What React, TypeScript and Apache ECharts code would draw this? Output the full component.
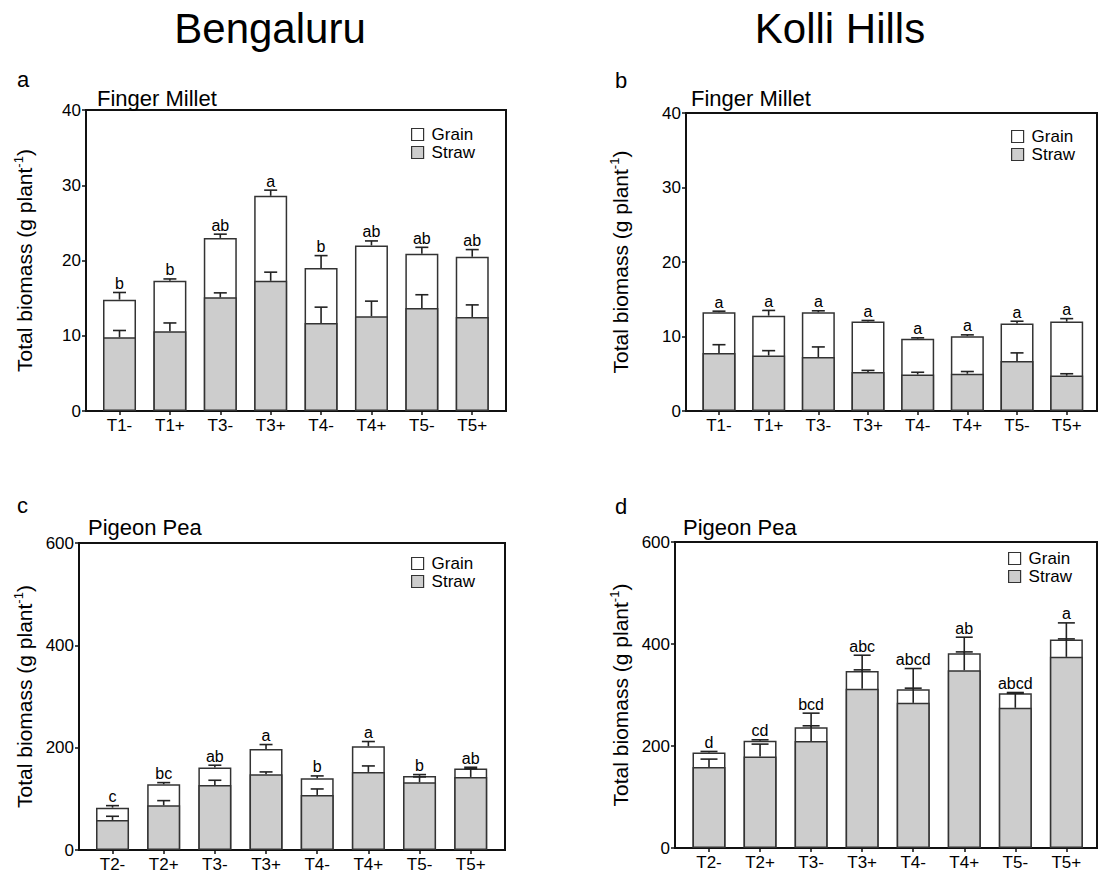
import React, { useEffect, useRef } from "react";
import * as echarts from "echarts";

const FONT = '"Liberation Sans", Arial, sans-serif';

// ---- categories ----
const FM_CATS = ["T1-", "T1+", "T3-", "T3+", "T4-", "T4+", "T5-", "T5+"];
const PP_CATS = ["T2-", "T2+", "T3-", "T3+", "T4-", "T4+", "T5-", "T5+"];

// ---- (a) Bengaluru, Finger Millet ----
const A_STRAW = [9.8, 10.6, 15.1, 17.3, 11.7, 12.6, 13.7, 12.5];
const A_STRAW_SE = [0.9, 1.1, 0.6, 1.15, 2.1, 2.0, 1.75, 1.6];
const A_TOTAL = [14.8, 17.3, 23.0, 28.6, 19.0, 22.0, 20.9, 20.5];
const A_TOTAL_SE = [0.95, 0.25, 0.5, 0.75, 1.65, 0.6, 0.85, 0.95];
const A_LETTERS = ["b", "b", "ab", "a", "b", "ab", "ab", "ab"];

// ---- (b) Kolli Hills, Finger Millet ----
const B_STRAW = [7.8, 7.45, 7.25, 5.25, 4.9, 5.0, 6.7, 4.75];
const B_STRAW_SE = [1.1, 0.65, 1.35, 0.2, 0.3, 0.3, 1.1, 0.25];
const B_TOTAL = [13.25, 12.8, 13.25, 12.0, 9.7, 10.05, 11.75, 12.0];
const B_TOTAL_SE = [0.15, 0.7, 0.2, 0.15, 0.12, 0.17, 0.3, 0.4];
const B_LETTERS = ["a", "a", "a", "a", "a", "a", "a", "a"];

// ---- (c) Bengaluru, Pigeon Pea ----
const C_STRAW = [58.7, 87.4, 127.2, 148.0, 107.6, 152.6, 132.4, 142.8];
const C_STRAW_SE = [7.2, 9.1, 9.1, 4.6, 11.7, 11.7, 10.5, 16.0];
const C_TOTAL = [82.8, 128.5, 161.1, 197.6, 140.2, 202.8, 144.8, 159.1];
const C_TOTAL_SE = [3.9, 3.2, 4.6, 8.5, 4.6, 9.2, 2.6, 2.6];
const C_LETTERS = ["c", "bc", "ab", "a", "b", "a", "b", "ab"];

// ---- (d) Kolli Hills, Pigeon Pea ----
const D_STRAW = [158.6, 179.5, 209.6, 312.1, 284.6, 348.6, 274.9, 374.8];
const D_STRAW_SE = [15.7, 24.2, 54.8, 65.9, 67.3, 64.7, 28.5, 66.6];
const D_TOTAL = [187.4, 210.2, 237.0, 347.3, 311.4, 381.9, 303.6, 408.7];
const D_TOTAL_SE = [1.9, 2.0, 2.6, 2.0, 2.0, 2.6, 1.3, 1.3];
const D_LETTERS = ["d", "cd", "bcd", "abc", "abcd", "ab", "abcd", "a"];

const Y_NAME = "{m|Total biomass (g plant}{s|-1}{m|)}";

const PANELS = [
  { cats: FM_CATS, straw: A_STRAW, strawSE: A_STRAW_SE, total: A_TOTAL, totalSE: A_TOTAL_SE, letters: A_LETTERS,
    grid: { left: 86, top: 110, width: 420, height: 301 }, xMin: -0.665, xMax: 7.67, yMax: 40, yInt: 10, nameGap: 50, capW: 13,
    legend: { left: 411, top: 126 } },
  { cats: FM_CATS, straw: B_STRAW, strawSE: B_STRAW_SE, total: B_TOTAL, totalSE: B_TOTAL_SE, letters: B_LETTERS,
    grid: { left: 686, top: 113, width: 411, height: 298 }, xMin: -0.664, xMax: 7.61, yMax: 40, yInt: 10, nameGap: 54, capW: 13,
    legend: { left: 1011, top: 128 } },
  { cats: PP_CATS, straw: C_STRAW, strawSE: C_STRAW_SE, total: C_TOTAL, totalSE: C_TOTAL_SE, letters: C_LETTERS,
    grid: { left: 79, top: 543, width: 426, height: 307 }, xMin: -0.655, xMax: 7.67, yMax: 600, yInt: 200, nameGap: 43, capW: 13,
    legend: { left: 411, top: 555 } },
  { cats: PP_CATS, straw: D_STRAW, strawSE: D_STRAW_SE, total: D_TOTAL, totalSE: D_TOTAL_SE, letters: D_LETTERS,
    grid: { left: 675, top: 542, width: 422, height: 306 }, xMin: -0.666, xMax: 7.6, yMax: 600, yInt: 200, nameGap: 43, capW: 17,
    legend: { left: 1008, top: 550 } },
];

function buildOption() {
  const grids: any[] = [];
  const xAxes: any[] = [];
  const yAxes: any[] = [];
  const series: any[] = [];
  const legends: any[] = [];
  const idx = [0, 1, 2, 3, 4, 5, 6, 7];

  PANELS.forEach((p, gi) => {
    grids.push({
      ...p.grid,
      show: true,
      borderColor: "#111",
      borderWidth: 2,
      backgroundColor: "transparent",
      containLabel: false,
      outerBoundsMode: "none",
    });
    xAxes.push({
      type: "value",
      gridIndex: gi,
      min: p.xMin,
      max: p.xMax,
      splitLine: { show: false },
      axisLine: { onZero: false, lineStyle: { color: "#111", width: 2 } },
      axisTick: { customValues: idx, length: 4, lineStyle: { color: "#111", width: 1.5 } },
      axisLabel: {
        customValues: idx,
        formatter: (v: number) => p.cats[Math.round(v)],
        color: "#000",
        fontSize: 17,
        fontFamily: FONT,
        margin: 6,
      },
    });
    yAxes.push({
      type: "value",
      gridIndex: gi,
      min: 0,
      max: p.yMax,
      interval: p.yInt,
      splitLine: { show: false },
      axisLine: { show: true, onZero: false, lineStyle: { color: "#111", width: 2 } },
      axisTick: { show: true, length: 4, lineStyle: { color: "#111", width: 1.5 } },
      axisLabel: { color: "#000", fontSize: 17, fontFamily: FONT, margin: 5 },
      name: Y_NAME,
      nameLocation: "middle",
      nameGap: p.nameGap,
      nameTextStyle: {
        rich: {
          m: { fontSize: 21, fontFamily: FONT, color: "#000", lineHeight: 24 },
          s: { fontSize: 13, fontFamily: FONT, color: "#000", lineHeight: 13, verticalAlign: "top" },
        },
      },
    });

    series.push({
      type: "bar",
      name: "Grain",
      xAxisIndex: gi,
      yAxisIndex: gi,
      barWidth: 33,
      barGap: "-100%",
      z: 2,
      itemStyle: { color: "#ffffff", borderColor: "#333", borderWidth: 1.5 },
      data: p.total.map((v, i) => [i, v]),
    });
    series.push({
      type: "bar",
      name: "Straw",
      xAxisIndex: gi,
      yAxisIndex: gi,
      barWidth: 33,
      barGap: "-100%",
      z: 3,
      itemStyle: { color: "#cdcdcd", borderColor: "#333", borderWidth: 1.5 },
      data: p.straw.map((v, i) => [i, v]),
    });
    series.push({
      type: "custom",
      xAxisIndex: gi,
      yAxisIndex: gi,
      z: 5,
      encode: { x: 0, y: 1 },
      data: p.total.map((v, i) => [i, v + p.totalSE[i]]),
      renderItem: (params: any, api: any) => {
        const k = params.dataIndex;
        const x = api.value(0);
        const s = p.straw[k];
        const t = p.total[k];
        const [cx, ys0] = api.coord([x, s]);
        const ys1 = api.coord([x, s + p.strawSE[k]])[1];
        const yt0 = api.coord([x, t])[1];
        const yt1 = api.coord([x, t + p.totalSE[k]])[1];
        const hw = p.capW / 2;
        const ls = { stroke: "#222", lineWidth: 1.6 };
        const topY = Math.min(ys1, yt1);
        return {
          type: "group",
          children: [
            { type: "line", shape: { x1: cx, y1: ys0, x2: cx, y2: ys1 }, style: ls },
            { type: "line", shape: { x1: cx - hw, y1: ys1, x2: cx + hw, y2: ys1 }, style: ls },
            { type: "line", shape: { x1: cx, y1: yt0, x2: cx, y2: yt1 }, style: ls },
            { type: "line", shape: { x1: cx - hw, y1: yt1, x2: cx + hw, y2: yt1 }, style: ls },
            {
              type: "text",
              x: cx,
              y: topY - 1,
              style: {
                text: p.letters[k],
                fontSize: 16,
                fontFamily: FONT,
                fill: "#000",
                align: "center",
                verticalAlign: "bottom",
              },
            },
          ],
        };
      },
    });

    legends.push({
      data: ["Grain", "Straw"],
      orient: "vertical",
      left: p.legend.left,
      top: p.legend.top,
      padding: 0,
      itemWidth: 12,
      itemHeight: 12,
      itemGap: 1,
      icon: "rect",
      selectedMode: false,
      itemStyle: { borderColor: "#333", borderWidth: 1.2 },
      textStyle: { color: "#000", fontSize: 17, fontFamily: FONT, lineHeight: 16, padding: [0, 0, 0, 3] },
    });
  });

  const t = (text: string, x: number, y: number, size: number, align = "left") => ({
    type: "text",
    x,
    y,
    style: { text, font: `${size}px ${FONT}`, fill: "#000", align, verticalAlign: "middle" },
  });

  const graphic = [
    t("Bengaluru", 270, 28, 42, "center"),
    t("Kolli Hills", 840, 28, 42, "center"),
    t("a", 17, 79, 22),
    t("b", 615, 80, 22),
    t("c", 17, 505, 22),
    t("d", 615, 506, 22),
    t("Finger Millet", 97, 98, 22),
    t("Finger Millet", 691, 98, 22),
    t("Pigeon Pea", 88, 527, 22),
    t("Pigeon Pea", 683, 527, 22),
  ];

  return {
    animation: false,
    backgroundColor: "#ffffff",
    textStyle: { fontFamily: FONT },
    grid: grids,
    xAxis: xAxes,
    yAxis: yAxes,
    legend: legends,
    series,
    graphic,
  };
}

export default function App() {
  const ref = useRef<HTMLDivElement>(null);
  useEffect(() => {
    if (!ref.current) return;
    const chart = echarts.init(ref.current, undefined, { renderer: "svg" });
    chart.setOption(buildOption() as any);
    return () => chart.dispose();
  }, []);
  return (
    <div
      ref={ref}
      style={{ position: "absolute", left: 0, top: 0, width: 1098, height: 878, background: "#fff" }}
    />
  );
}
